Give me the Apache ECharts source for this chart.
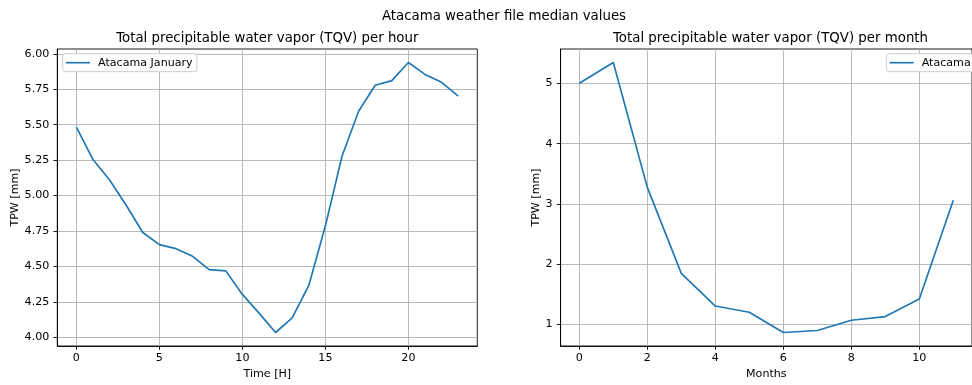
<!DOCTYPE html>
<html>
<head>
<meta charset="utf-8">
<script src="https://cdn.jsdelivr.net/npm/echarts@6/dist/echarts.min.js"></script>
<style>
  html, body { margin: 0; padding: 0; background: #fff; }
  #chart { width: 972px; height: 385px; }
</style>
</head>
<body>
<div id="chart"></div>
<script>
// Hourly median TQV for January
const hours = [0,1,2,3,4,5,6,7,8,9,10,11,12,13,14,15,16,17,18,19,20,21,22,23];
const tqvHour = [5.483,5.254,5.109,4.931,4.739,4.653,4.625,4.571,4.477,4.468,4.302,4.170,4.033,4.136,4.365,4.786,5.277,5.595,5.778,5.811,5.939,5.855,5.799,5.701];

// Monthly median TQV
const months = [0,1,2,3,4,5,6,7,8,9,10,11];
const tqvMonth = [5.000,5.345,3.274,1.849,1.307,1.203,0.868,0.901,1.071,1.132,1.422,3.060];

// Tick positions
const hourTicksX = [0,5,10,15,20];
const hourTicksY = [4.00,4.25,4.50,4.75,5.00,5.25,5.50,5.75,6.00];
const monthTicksX = [0,2,4,6,8,10];
const monthTicksY = [1,2,3,4,5];

const FONT = 'DejaVu Sans';
const BLUE = '#1f77b4';
const SMALL = 11.1;
const LARGE = 13.33;

// axis extent padded by 5% of the data span on each side
function padded(arr) {
  const lo = Math.min(...arr), hi = Math.max(...arr);
  const m = (hi - lo) * 0.05;
  return [lo - m, hi + m];
}

function valueAxis(gridIndex, extent, ticks, fmt, margin, extra) {
  return Object.assign({
    type: 'value',
    gridIndex: gridIndex,
    min: extent[0],
    max: extent[1],
    axisLine: { show: true, onZero: false, lineStyle: { color: '#000', width: 0.89 } },
    axisTick: { show: true, length: 3.9, inside: false, customValues: ticks,
                lineStyle: { color: '#000', width: 0.89 } },
    axisLabel: { customValues: ticks, formatter: fmt, color: '#000',
                 fontFamily: FONT, fontSize: SMALL, margin: margin },
    splitLine: { show: true, lineStyle: { color: '#b0b0b0', width: 0.89 } },
    nameLocation: 'middle',
    nameTextStyle: { color: '#000', fontFamily: FONT, fontSize: SMALL }
  }, extra);
}

function legendBox(label, pos) {
  return Object.assign({
    data: [label], top: 53.7, orient: 'vertical',
    icon: 'rect', itemWidth: 24, itemHeight: 1.67,
    padding: [2, 4.3, 2, 3.3],
    backgroundColor: '#fff', borderColor: '#cccccc', borderWidth: 1, borderRadius: 3,
    textStyle: { fontFamily: FONT, fontSize: SMALL, color: '#000', lineHeight: 14,
                 padding: [0, 0, 0, 3] }
  }, pos);
}

const titleStyle = { fontFamily: FONT, fontSize: LARGE, fontWeight: 'normal', color: '#000' };

const hx = padded(hours), hy = padded(tqvHour);
const mx = padded(months), my = padded(tqvMonth);

const chart = echarts.init(document.getElementById('chart'), null, { renderer: 'canvas' });

chart.setOption({
  animation: false,
  backgroundColor: '#fff',
  textStyle: { fontFamily: FONT },
  title: [
    { text: 'Atacama weather file median values', left: 504, top: 10, padding: 0,
      textAlign: 'center', textStyle: titleStyle },
    { text: 'Total precipitable water vapor (TQV) per hour', left: 267.3, top: 32, padding: 0,
      textAlign: 'center', textStyle: titleStyle },
    { text: 'Total precipitable water vapor (TQV) per month', left: 770.5, top: 32, padding: 0,
      textAlign: 'center', textStyle: titleStyle }
  ],
  legend: [
    legendBox('Atacama January', { left: 62.7 }),
    // the month panel runs past the canvas edge, so its legend box does too
    legendBox('Atacama', { right: -3 })
  ],
  grid: [
    { left: 57.3, top: 49, width: 420, height: 298.3, show: true,
      borderColor: '#000', borderWidth: 0.89, backgroundColor: 'transparent' },
    { left: 560.6, top: 49, width: 420, height: 298.3, show: true,
      borderColor: '#000', borderWidth: 0.89, backgroundColor: 'transparent' }
  ],
  xAxis: [
    valueAxis(0, hx, hourTicksX, v => String(v), 7, { name: 'Time [H]', nameGap: 23 }),
    valueAxis(1, mx, monthTicksX, v => String(v), 7, { name: 'Months', nameGap: 23 })
  ],
  yAxis: [
    valueAxis(0, hy, hourTicksY, v => v.toFixed(2), 8, { name: 'TPW [mm]', nameGap: 37 }),
    valueAxis(1, my, monthTicksY, v => String(v), 8, { name: 'TPW [mm]', nameGap: 18.5 })
  ],
  series: [
    { name: 'Atacama January', type: 'line', xAxisIndex: 0, yAxisIndex: 0,
      data: hours.map((h, i) => [h, tqvHour[i]]), symbol: 'none', smooth: false,
      lineStyle: { color: BLUE, width: 1.67 }, itemStyle: { color: BLUE } },
    { name: 'Atacama', type: 'line', xAxisIndex: 1, yAxisIndex: 1,
      data: months.map((m, i) => [m, tqvMonth[i]]), symbol: 'none', smooth: false,
      lineStyle: { color: BLUE, width: 1.67 }, itemStyle: { color: BLUE } }
  ]
});
</script>
</body>
</html>
